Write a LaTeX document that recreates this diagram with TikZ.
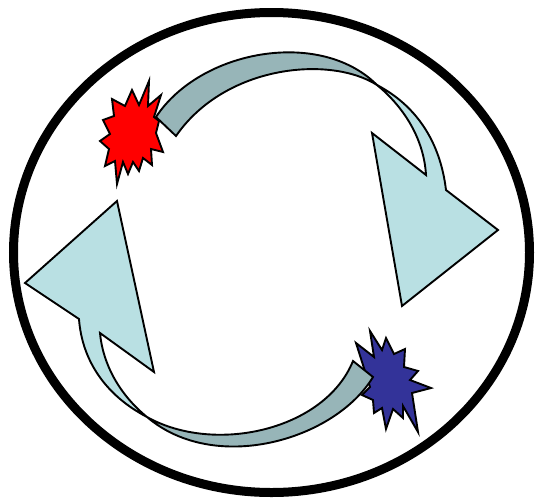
\documentclass[tikz,border=0pt]{standalone}
\definecolor{banddark}{HTML}{97B5B8}
\definecolor{bandlight}{HTML}{B9E0E3}
\definecolor{starred}{HTML}{FF0000}
\definecolor{starblue}{HTML}{333399}
\tikzset{
  shapeline/.style={draw=black, line width=1.9pt, line join=miter},
  darkband/.style={shapeline, fill=banddark},
  lightband/.style={shapeline, fill=bandlight},
  redburst/.style={shapeline, fill=starred},
  blueburst/.style={shapeline, fill=starblue},
  frame/.style={draw=black, line width=9pt}
}
\begin{document}
\begin{tikzpicture}[x=1pt,y=-1pt]
\useasboundingbox (0,0) rectangle (536,499);
% outer ellipse
\coordinate (ec) at (271.5,252.5);
\draw[frame] (ec) ellipse [x radius=258, y radius=240];

% red starburst
\draw[redburst] (149,81) -- (148,106) -- (161,95) -- (154,117) -- (159,121) -- (156,133)
  -- (163,152) -- (151,149) -- (152,165) -- (143,158) -- (139,171) -- (133,162)
  -- (128,174) -- (123,162) -- (117,184) -- (115,161) -- (105,166) -- (109,149)
  -- (100,141) -- (110,134) -- (103,120) -- (114,116) -- (112,99) -- (125,106)
  -- (132,90) -- (139,105) -- cycle;

% blue starburst
\draw[blueburst] (356,343) -- (374,357) -- (370,331) -- (382,350) -- (386,338)
  -- (394,354) -- (405,349) -- (404,367) -- (418,371) -- (410,380)
  -- (431,388) -- (412,393) -- (418,432) -- (403,406) -- (403,418) -- (393,409)
  -- (386,429) -- (382,408) -- (374,413) -- (373,400) -- (362,395) -- (370,387)
  -- cycle;

% top arrow
\coordinate (s1o) at (156,117);
\coordinate (s1i) at (176,136);
\coordinate (t1) at (377,85);
\coordinate (n1) at (426,175);
\coordinate (b1) at (372,133);
\coordinate (q1) at (402,306);
\coordinate (p1) at (498,230);
\coordinate (r1) at (446,190);
\draw[darkband] (s1o) .. controls (200,50) and (320,28) .. (t1)
  .. controls (330,55) and (225,65) .. (s1i) -- cycle;
\draw[lightband] (t1) .. controls (405,108) and (424,140) .. (n1)
  -- (b1) -- (q1) -- (p1) -- (r1)
  .. controls (440,140) and (415,105) .. (t1) -- cycle;

% bottom arrow
\coordinate (s2i) at (353,361);
\coordinate (s2o) at (373,377);
\coordinate (t2) at (147,417);
\coordinate (n2) at (100,333);
\coordinate (b2) at (154,372);
\coordinate (q2) at (117,201);
\coordinate (p2) at (25,283);
\coordinate (r2) at (79,319);
\draw[darkband] (s2i) .. controls (325,430) and (215,455) .. (t2)
  .. controls (215,475) and (335,440) .. (s2o) -- cycle;
\draw[lightband] (t2) .. controls (120,395) and (103,365) .. (n2)
  -- (b2) -- (q2) -- (p2) -- (r2)
  .. controls (82,360) and (105,395) .. (t2) -- cycle;
\end{tikzpicture}
\end{document}
